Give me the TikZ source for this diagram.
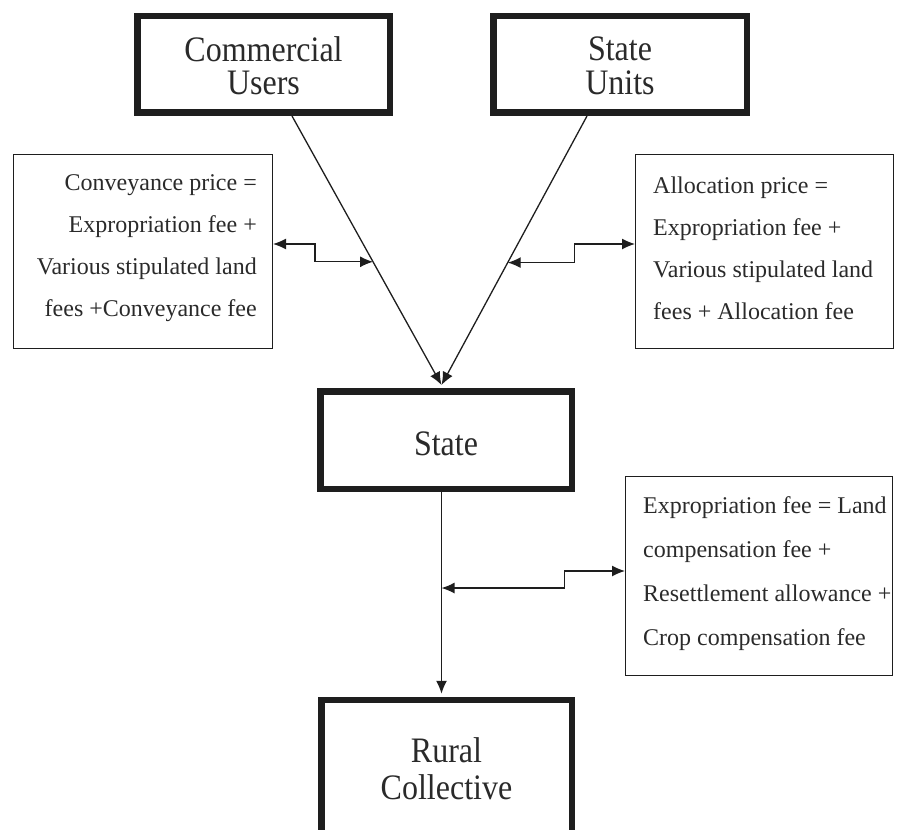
\documentclass[tikz,border=0pt]{standalone}
\usepackage{fontspec}
\setmainfont{Liberation Serif}
\usetikzlibrary{arrows.meta,calc}
\definecolor{ink}{HTML}{1E1E1E}
\definecolor{txt}{HTML}{2A2A2A}
\newcommand{\ttl}[2][-6pt]{\raisebox{#1}[\height][\depth]{\scalebox{1}[1.12]{\begin{tabular}{@{}c@{}}#2\end{tabular}}}}
\tikzset{
  titlebox/.style={draw=ink, line width=6.5pt, inner sep=0pt, align=center,
    text=txt, font=\fontsize{32}{30}\selectfont},
  notebox/.style={draw=ink, line width=1.4pt, inner sep=0pt},
  notetext/.style={inner sep=0pt, text=txt, font=\fontsize{24}{42}\selectfont},
  conn/.style={draw=ink, line width=1.3pt},
  onetip/.style={-{Latex[length=13pt,width=11pt]}},
  twotips/.style={{Latex[length=13pt,width=11pt]}-{Latex[length=13pt,width=11pt]}},
}
\begin{document}
\begin{tikzpicture}[x=1pt,y=-1pt]
\useasboundingbox (0,0) rectangle (901,829);
\clip (0,0) rectangle (901,829);

% main boxes
\node[titlebox, minimum width=252.5pt, minimum height=96.5pt] (cu) at (263.5,64.5) {\ttl{Commercial\\Users}};
\node[titlebox, minimum width=253.5pt, minimum height=96.5pt] (su) at (620,64.5) {\ttl{State\\Units}};
\node[titlebox, minimum width=251.5pt, minimum height=97.5pt] (state) at (446,440) {\ttl[-9pt]{State}};
\node[titlebox, minimum width=250.5pt, minimum height=140pt, font=\fontsize{32}{33}\selectfont] (rural) at (446.5,770) {\ttl[-4pt]{Rural\\Collective}};

% note boxes
\node[notebox, minimum width=258.6pt, minimum height=193.6pt] (lbox) at (143,251.5) {};
\node[notebox, minimum width=257.6pt, minimum height=193.6pt] (rbox) at (764.5,251.5) {};
\node[notebox, minimum width=266.6pt, minimum height=198.6pt] (bbox) at (759,576) {};

\node[notetext, align=right, anchor=east] (ltext) at (257,248)
  {Conveyance price =\\Expropriation fee +\\Various stipulated land\\fees +Conveyance fee};
\node[notetext, align=left, anchor=west] (rtext) at (653,248)
  {Allocation price =\\Expropriation fee +\\Various stipulated land\\fees + Allocation fee};
\node[notetext, align=left, anchor=west, font=\fontsize{24}{44}\selectfont] (btext) at (643,573.5)
  {Expropriation fee = Land\\compensation fee +\\Resettlement allowance +\\Crop compensation fee};

% helper coordinates
\coordinate (cx) at (441.5,0);
\coordinate (cux) at (292,0);
\coordinate (sux) at (587,0);
\coordinate (ly) at (0,244);
\coordinate (bly) at (0,571);
\coordinate (cuS) at (cu.south -| cux);
\coordinate (suS) at (su.south -| sux);
\coordinate (stip) at ($(state.north -| cx)+(0,-3)$);
\coordinate (rtip) at ($(rural.north -| cx)+(0,-3)$);
\coordinate (lj) at ($(cuS)!0.542!(stip)$);
\coordinate (rj) at ($(suS)!0.545!(stip)$);
\coordinate (bj) at ($(state.south -| cx)!0.469!(rural.north -| cx)$);

% main connectors
\draw[conn,onetip] (cuS) -- (stip);
\draw[conn,onetip] (suS) -- (stip);
\draw[conn,onetip] (state.south -| cx) -- (rtip);

% stepped double arrows
\draw[conn,twotips] (lbox.east |- ly) -- ++(42,0) |- (lj);
\draw[conn,twotips] (rj) -- ++(67,0) |- (rbox.west |- ly);
\draw[conn,twotips] (bj) -- ++(123,0) |- (bbox.west |- bly);
\end{tikzpicture}
\end{document}
